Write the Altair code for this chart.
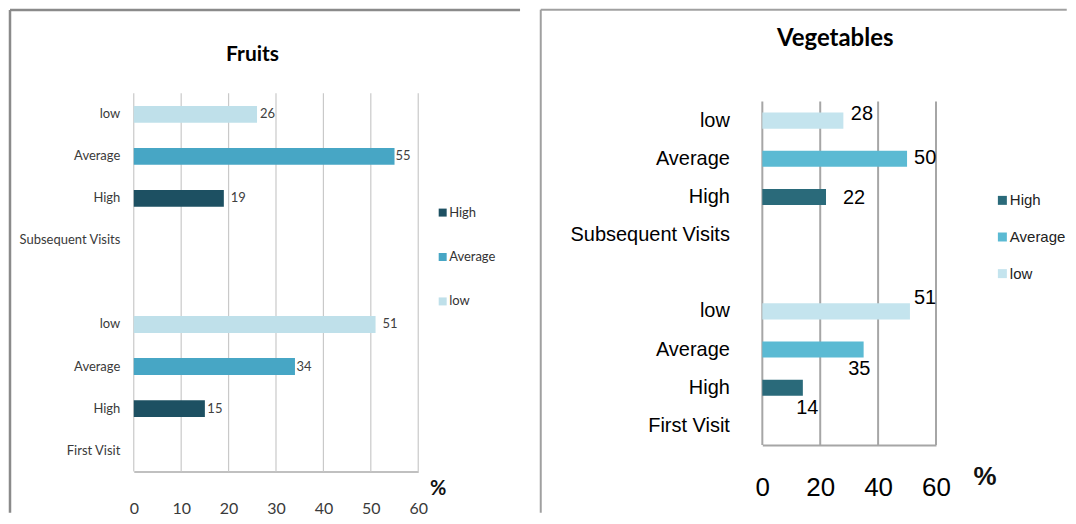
import altair as alt
import pandas as pd

# ---------------- data ----------------
row_keys = ["sub_low", "sub_avg", "sub_high", "sub_head", "gap",
            "first_low", "first_avg", "first_high", "first_head"]
row_labels = ["low", "Average", "High", "Subsequent Visits", "",
              "low", "Average", "High", "First Visit"]
levels = ["High", "Average", "low"]
sub_rows = ["sub_high", "sub_avg", "sub_low"]
first_rows = ["first_high", "first_avg", "first_low"]

fruits_subsequent = [19, 55, 26]
fruits_first = [15, 34, 51]
veg_subsequent = [22, 50, 28]
veg_first = [14, 35, 51]

fruits_ticks = [0, 10, 20, 30, 40, 50, 60]
veg_ticks = [0, 20, 40, 60]

fruit_colors = ["#1d5062", "#47a6c5", "#bfe0ea"]
veg_colors = ["#2a6a7a", "#5bbad3", "#c4e4ee"]

LATO = "Lato"
ARIAL = "Liberation Sans"


def make_table(sub, first):
    recs = []
    for lv, r, v in zip(levels, sub_rows, sub):
        recs.append({"row": r, "level": lv, "value": v})
    for lv, r, v in zip(levels, first_rows, first):
        recs.append({"row": r, "level": lv, "value": v})
    return pd.DataFrame(recs)


label_expr = ("[" + ",".join("'%s'" % s for s in row_labels) + "][indexof([" +
              ",".join("'%s'" % k for k in row_keys) + "], datum.value)]")

one = pd.DataFrame({"k": [0]})


def panel(df, colors, ticks, width, height, band_range, pad_inner, st, label_offsets):
    base = alt.Chart(df)
    xscale = alt.Scale(domain=[0, 60], nice=False)
    grid = alt.Chart(pd.DataFrame({"value": ticks})).mark_rule(
        color=st["grid"], strokeWidth=st["gw"]
    ).encode(
        x=alt.X("value:Q", title=None, scale=xscale),
        y=alt.value(band_range[0]), y2=alt.value(band_range[1]),
    )
    bars = base.mark_bar().encode(
        x=alt.X("value:Q", title=None, scale=xscale,
                axis=alt.Axis(values=ticks, grid=False, domain=True,
                              domainColor=st["dom"], domainWidth=2,
                              ticks=False, tickSize=0, labelFlush=False,
                              labelOverlap=False,
                              labelPadding=st["xpad"], labelFont=st["font"],
                              labelFontSize=st["xfs"], labelColor=st["tc"],
                              format="d")),
        y=alt.Y("row:N", title=None,
                scale=alt.Scale(domain=row_keys, range=band_range,
                                paddingInner=pad_inner,
                                paddingOuter=pad_inner / 2),
                axis=alt.Axis(labelExpr=label_expr, ticks=False, tickSize=0,
                              domain=False, grid=False,
                              labelPadding=st["ypad"], labelFont=st["font"],
                              labelFontSize=st["yfs"], labelColor=st["tc"],
                              labelLimit=400)),
        color=alt.Color("level:N",
                        scale=alt.Scale(domain=levels, range=colors),
                        legend=alt.Legend(title=None, orient="none",
                                          legendX=st["lx"], legendY=st["ly"],
                                          direction="vertical",
                                          symbolType="square",
                                          symbolSize=st["ss"],
                                          symbolStrokeWidth=0,
                                          symbolOpacity=1,
                                          labelFont=st["font"],
                                          labelFontSize=st["lfs"],
                                          labelColor=st["lc"],
                                          labelOffset=st["lo"],
                                          rowPadding=st["rp"], padding=0)),
    )
    layers = [grid, bars]
    for r, dx, dy in label_offsets:
        layers.append(
            base.transform_filter(alt.datum.row == r).mark_text(
                align="left", baseline="middle", dx=dx, dy=dy,
                font=st["font"], fontSize=st["vfs"], color=st["vc"]
            ).encode(
                x=alt.X("value:Q", title=None),
                y=alt.Y("row:N", title=None),
                text=alt.Text("value:Q"),
            )
        )
    # title text
    layers.append(alt.Chart(one).mark_text(
        text=st["title"], font=st["tfont"], fontSize=st["tfs"],
        fontWeight="bold", align="center", baseline="alphabetic",
        color="#000000").encode(x=alt.value(st["tx"]), y=alt.value(st["ty"])))
    # % label
    layers.append(alt.Chart(one).mark_text(
        text="%", font=st["pfont"], fontSize=st["pfs"], fontWeight="bold",
        align="center", baseline="middle", color="#111111"
    ).encode(x=alt.value(st["px"]), y=alt.value(st["py"])))
    # frame lines (top and left edge of the panel)
    bl, bt, br, bb = st["box"]
    layers.append(alt.Chart(one).mark_rule(
        color=st["bc"], strokeWidth=st["bw"]).encode(
        x=alt.value(bl), x2=alt.value(br), y=alt.value(bt)))
    layers.append(alt.Chart(one).mark_rule(
        color=st["bc"], strokeWidth=st["bw"]).encode(
        x=alt.value(bl), y=alt.value(bt), y2=alt.value(bb)))
    return alt.layer(*layers).properties(width=width, height=height)


fruit_style = dict(
    font=LATO, grid="#c9c9c9", gw=1.2, dom="#c0c0c0", xpad=29, xfs=16,
    tc="#3a3a3a", ypad=14, yfs=13, lx=303, ly=113, ss=64, lfs=13,
    lc="#333333", lo=0, rp=30.5, vfs=13, vc="#404040",
    title="Fruits", tfont=LATO, tfs=21, tx=119, ty=-32,
    pfont=LATO, pfs=20, px=305, py=396,
    box=(-124, -83.5, 387, 420.25), bc="#8a8a8a", bw=2.5,
)
veg_style = dict(
    font=ARIAL, grid="#a6a6a6", gw=2, dom="#a6a6a6", xpad=30, xfs=26,
    tc="#000000", ypad=33, yfs=20, lx=233, ly=99.75, ss=81, lfs=15,
    lc="#222222", lo=0, rp=20.7, vfs=20, vc="#000000",
    title="Vegetables", tfont=LATO, tfs=24, tx=73, ty=-47.75,
    pfont=ARIAL, pfs=26, px=223, py=384.25,
    box=(-222, -83.75, 305, 420.25), bc="#a0a0a0", bw=2,
)

fruit_labels = [("sub_low", 3, 0), ("sub_avg", 1, 0), ("sub_high", 7, 0),
                ("first_low", 7, 0), ("first_avg", 1.5, 0), ("first_high", 2.5, 0)]
veg_labels = [("sub_low", 7.5, -7), ("sub_avg", 7, -1), ("sub_high", 17, 1),
              ("first_low", 4, -13), ("first_avg", -15.5, 19.5),
              ("first_high", -6.6, 20)]

fruits = panel(make_table(fruits_subsequent, fruits_first), fruit_colors,
               fruits_ticks, 285, 379, [0, 379], 0.6, fruit_style, fruit_labels)
veg = panel(make_table(veg_subsequent, veg_first), veg_colors,
            veg_ticks, 174, 352.25, [8.25, 352.25], 0.58, veg_style, veg_labels)

chart = alt.concat(fruits, veg, columns=2, spacing=17.75).properties(
    padding=0
).resolve_scale(color="independent").resolve_legend(color="independent"
).configure_view(stroke=None)

chart.save("out.html", embed_options={"renderer": "svg", "actions": False})
